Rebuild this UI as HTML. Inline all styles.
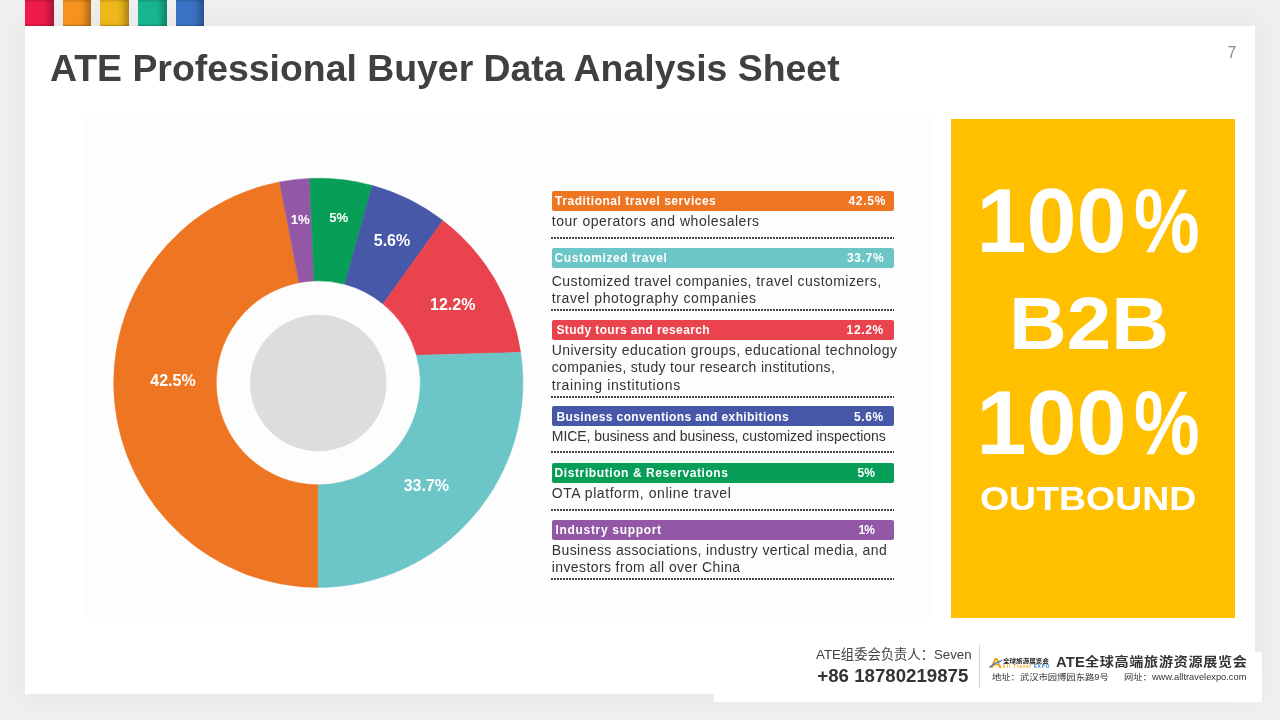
<!DOCTYPE html>
<html lang="en">
<head>
<meta charset="utf-8">
<title>ATE Professional Buyer Data Analysis Sheet</title>
<style>
*{margin:0;padding:0;box-sizing:border-box}
html,body{width:1280px;height:720px;overflow:hidden}
body{background:#efefef;font-family:"Liberation Sans","Noto Sans CJK SC",sans-serif;position:relative;color:#404040}
.abs{position:absolute}
#card{left:25px;top:26px;width:1230px;height:668px;background:#fff;box-shadow:0 0 30px 1px rgba(0,0,0,.052)}
#foot{left:714px;top:652px;width:548px;height:50px;background:#fff}
.sq{top:-1px;height:26.7px;width:29px;box-shadow:inset -8px 0 6px -3px rgba(0,0,0,.28),inset 0 -2px 2px -1px rgba(0,0,0,.2),inset 0 3px 2px -1px rgba(0,0,0,.15)}
#title{left:50px;top:46px;font-size:37.4px;font-weight:bold;color:#404040;white-space:nowrap;line-height:44px;letter-spacing:0}
#pg{left:1227.5px;top:43.8px;font-size:16px;color:#8a8a8a;line-height:18px}
#ybox{left:951px;top:119px;width:284px;height:499px;background:#ffc000;color:#fff;font-weight:bold;text-align:left}
.pc{display:inline-block;transform:scaleX(.82);transform-origin:0 50%;margin-left:7px}
#ybox div{position:absolute;left:0;width:284px;white-space:nowrap}
.bar{left:551.5px;width:342px;height:20.2px;border-radius:2px;color:#fff;font-weight:bold;font-size:12px;line-height:20px;white-space:nowrap}
.bar span{position:absolute;top:0}
.desc{left:551.8px;font-size:14px;line-height:17px;color:#333;white-space:nowrap}
.dot{left:551px;width:342.5px;height:2px;background:repeating-linear-gradient(90deg,#444 0,#444 1.6px,rgba(255,255,255,0) 1.6px,rgba(255,255,255,0) 3px)}
.sx{transform-origin:0 50%}
.lbl{fill:#fff;font-weight:bold;font-family:"Liberation Sans",sans-serif}
</style>
</head>
<body>
<div id="card" class="abs"></div>
<div id="foot" class="abs"></div>
<div class="abs" style="left:83px;top:118px;width:849px;height:499px;background:#fdfdfd"></div>

<div class="abs sq" style="left:25px;background:#ed1c48"></div>
<div class="abs sq" style="left:63px;width:28px;background:#f6921e"></div>
<div class="abs sq" style="left:100px;background:#edb81c"></div>
<div class="abs sq" style="left:138px;background:#18b690"></div>
<div class="abs sq" style="left:176px;width:28px;background:#3a73c6"></div>

<div id="title" class="abs">ATE Professional Buyer Data Analysis Sheet</div>
<div id="pg" class="abs">7</div>

<!-- donut chart -->
<svg class="abs" style="left:0;top:0" width="1280" height="720" viewBox="0 0 1280 720">
  <path fill="#ee7623" stroke="#ee7623" stroke-width=".5" d="M318.3 587.4A204.6 204.6 0 0 1 279.61 181.89L299.01 282.64A102.0 102.0 0 0 0 318.3 484.8Z"/>
  <path fill="#9358a5" stroke="#9358a5" stroke-width=".5" d="M279.61 181.89A204.6 204.6 0 0 1 309.73 178.38L314.03 280.89A102.0 102.0 0 0 0 299.01 282.64Z"/>
  <path fill="#079e57" stroke="#079e57" stroke-width=".5" d="M309.73 178.38A204.6 204.6 0 0 1 372.29 185.45L344.7 284.28A102.0 102.0 0 0 0 314.03 280.89Z"/>
  <path fill="#4758a8" stroke="#4758a8" stroke-width=".5" d="M372.29 185.45A204.6 204.6 0 0 1 442.85 220.48L383.04 303.98A102.0 102.0 0 0 0 344.7 284.28Z"/>
  <path fill="#e9434e" stroke="#e9434e" stroke-width=".5" d="M442.85 220.48A204.6 204.6 0 0 1 520.62 352.35L416.51 355.27A102.0 102.0 0 0 0 383.04 303.98Z"/>
  <path fill="#6cc5c7" stroke="#6cc5c7" stroke-width=".5" d="M520.62 352.35A204.6 204.6 0 0 1 318.3 587.4L318.3 484.8A102.0 102.0 0 0 0 416.51 355.27Z"/>
  <circle cx="318.3" cy="383" r="68.3" fill="#dcdddd"/>
  <text class="lbl" text-anchor="middle" font-size="16" x="173" y="386.3">42.5%</text>
  <text class="lbl" text-anchor="middle" font-size="13.2" x="300.2" y="223.7">1%</text>
  <text class="lbl" text-anchor="middle" font-size="13.2" x="338.7" y="222">5%</text>
  <text class="lbl" text-anchor="middle" font-size="16" x="392" y="245.8">5.6%</text>
  <text class="lbl" text-anchor="middle" font-size="16" x="452.7" y="310">12.2%</text>
  <text class="lbl" text-anchor="middle" font-size="16" x="426.4" y="490.9">33.7%</text>
</svg>

<!-- legend -->
<div class="abs bar" style="top:191.1px;background:#ee7623"><span style="left:3.6px;top:-0.1px;letter-spacing:0.51px">Traditional travel services</span><span style="left:296.9px;top:-0.1px;letter-spacing:0.74px">42.5%</span></div>
<div class="abs desc" style="top:213.0px;letter-spacing:0.52px">tour operators and wholesalers</div>
<div class="abs dot" style="top:236.8px"></div>

<div class="abs bar" style="top:248.2px;background:#6cc5c7"><span style="left:3.1px;top:0.2px;letter-spacing:0.55px">Customized travel</span><span style="left:295.4px;top:0.2px;letter-spacing:0.67px">33.7%</span></div>
<div class="abs desc" style="top:272.9px;letter-spacing:0.45px">Customized travel companies, travel customizers,</div>
<div class="abs desc" style="top:290.1px;letter-spacing:0.62px">travel photography companies</div>
<div class="abs dot" style="top:308.6px"></div>

<div class="abs bar" style="top:320.0px;background:#e9434e"><span style="left:4.9px;top:0.0px;letter-spacing:0.37px">Study tours and research</span><span style="left:295.1px;top:0.0px;letter-spacing:0.62px">12.2%</span></div>
<div class="abs desc" style="top:342.3px;letter-spacing:0.43px">University education groups, educational technology</div>
<div class="abs desc" style="top:359.4px;letter-spacing:0.32px">companies, study tour research institutions,</div>
<div class="abs desc" style="top:376.5px;letter-spacing:0.62px">training institutions</div>
<div class="abs dot" style="top:396.4px"></div>

<div class="abs bar" style="top:405.5px;background:#4758a8"><span style="left:4.9px;top:1.5px;letter-spacing:0.39px">Business conventions and exhibitions</span><span style="left:302.6px;top:1.5px;letter-spacing:0.55px">5.6%</span></div>
<div class="abs desc" style="top:427.6px;letter-spacing:-0.06px">MICE, business and business, customized inspections</div>
<div class="abs dot" style="top:451.1px"></div>

<div class="abs bar" style="top:462.6px;background:#079e57"><span style="left:3.1px;top:0.9px;letter-spacing:0.59px">Distribution &amp; Reservations</span><span style="left:306.1px;top:0.9px;letter-spacing:0.06px">5%</span></div>
<div class="abs desc" style="top:484.6px;letter-spacing:0.55px">OTA platform, online travel</div>
<div class="abs dot" style="top:508.5px"></div>

<div class="abs bar" style="top:520.0px;background:#9358a5"><span style="left:4.0px;top:-0.1px;letter-spacing:0.68px">Industry support</span><span style="left:307.0px;top:-0.1px;letter-spacing:-0.84px">1%</span></div>
<div class="abs desc" style="top:541.9px;letter-spacing:0.38px">Business associations, industry vertical media, and</div>
<div class="abs desc" style="top:558.7px;letter-spacing:0.39px">investors from all over China</div>
<div class="abs dot" style="top:578.0px"></div>


<!-- yellow box -->
<div id="ybox" class="abs">
  <div style="top:50px;left:25.5px;font-size:90px;line-height:104px">100<span class="pc">%</span></div>
  <div style="top:162px;font-size:74px;line-height:86px;text-align:center;margin-left:-4.5px;transform:scaleX(1.08)">B2B</div>
  <div style="top:252px;left:25.5px;font-size:90px;line-height:104px">100<span class="pc">%</span></div>
  <div class="sx" style="top:359.5px;left:28.5px;font-size:33.6px;line-height:40px;transform:scaleX(1.115)">OUTBOUND</div>
</div>

<!-- footer -->
<div class="abs" id="f1" style="left:816px;top:646.1px;font-size:13.3px;line-height:18px;color:#404040;white-space:nowrap">ATE组委会负责人：Seven</div>
<div class="abs" id="f2" style="left:817.3px;top:663.6px;font-size:18.67px;line-height:24px;font-weight:bold;color:#333;white-space:nowrap">+86 18780219875</div>
<div class="abs" style="left:979px;top:645px;width:1px;height:43px;background:#d4d4d4"></div>
<div class="abs sx" id="lgA" style="left:989.8px;top:655px;font-size:15.4px;line-height:16px;font-weight:bold;color:#f5a21d;white-space:nowrap;transform:scaleX(1.08)">A</div>
<svg class="abs" style="left:988px;top:656px" width="16" height="14" viewBox="0 0 16 14"><path d="M1.8 11 Q6.5 7 13.5 4.6" fill="none" stroke="#2f7fc4" stroke-width="1.3" stroke-linecap="round"/></svg>
<div class="abs sx" id="lg1" style="left:1002.6px;top:655.6px;font-size:6.1px;line-height:9px;font-weight:bold;color:#222;white-space:nowrap;transform:scaleX(1.075)">全球旅游展览会</div>
<div class="abs" id="lg2" style="left:1002.6px;top:663.6px;font-size:4.6px;line-height:6px;font-weight:bold;color:#f5a21d;white-space:nowrap;letter-spacing:.87px">All Travel <span style="color:#2f7fc4">EXPO</span></div>
<div class="abs" id="f3" style="left:1056px;top:651.8px;font-size:14.8px;line-height:20px;font-weight:bold;color:#333;white-space:nowrap;letter-spacing:.2px">ATE</div>
<div class="abs sx" id="f3c" style="left:1085.3px;top:651.5px;font-size:12.6px;line-height:20px;font-weight:bold;color:#333;white-space:nowrap;letter-spacing:.6px;transform:scaleX(1.12)">全球高端旅游资源展览会</div>
<div class="abs sx" id="f4" style="left:992px;top:671px;font-size:8.4px;line-height:13px;color:#333;white-space:nowrap;transform:scaleX(1.11)">地址：武汉市园博园东路9号</div>
<div class="abs sx" id="f5" style="left:1124px;top:671px;font-size:8.4px;line-height:13px;color:#333;white-space:nowrap;transform:scaleX(1.11)">网址：www.alltravelexpo.com</div>

</body>
</html>
